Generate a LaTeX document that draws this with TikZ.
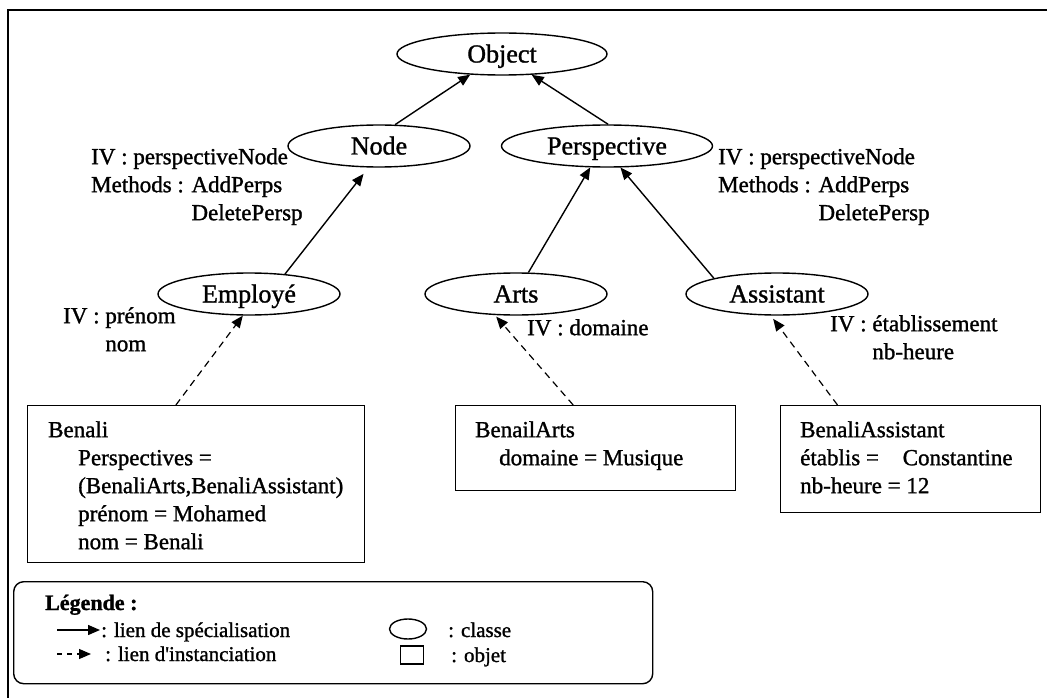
\documentclass[tikz,border=0pt]{standalone}
\usepackage{fontspec}
\setmainfont{Liberation Serif}[FakeBold=1.2]
\usetikzlibrary{shapes.geometric,arrows.meta,calc}

\begin{document}
\begin{tikzpicture}[x=1pt,y=-1pt,
  cls/.style={ellipse, draw, line width=1.4pt, minimum width=#1, minimum height=42pt,
    inner sep=0pt, font=\fontsize{26}{30}\selectfont, text height=17pt, text depth=0pt},
  cls/.default=182pt,
  objbox/.style={draw, line width=1.4pt, inner sep=0pt, anchor=north west},
  txt/.style={inner sep=0pt, align=left, anchor=north west, font=\fontsize{23}{28}\selectfont},
  legtxt/.style={inner sep=0pt, anchor=base west, font=\fontsize{21}{25}\selectfont},
  spec/.style={line width=1.4pt, -{Triangle[length=12pt,width=10pt]}},
  inst/.style={line width=1.2pt, dash pattern=on 7pt off 5pt, -{Triangle[length=12pt,width=10pt]}}
]
\useasboundingbox (0,0) rectangle (1047,698);

% frame
\draw[line width=1.8pt] (8,698) -- (8,10) -- (1047,10);

% classes
\node[cls=210pt] (obj) at (502,54) {Object};
\node[cls=182pt] (nodeC) at (379,146) {Node};
\node[cls=211pt] (persp) at (607,146) {Perspective};
\node[cls=182pt] (emp) at (249,294) {Employé};
\node[cls=182pt] (arts) at (516,294) {Arts};
\node[cls=182pt] (assist) at (777,294) {Assistant};

% class annotations
\node[txt] (lblNode) at (91,144.4) {\strut IV : perspectiveNode\\Methods : AddPerps\\\phantom{Methods : }DeletePersp};
\node[txt] (lblPersp) at (718,144.4) {\strut IV : perspectiveNode\\Methods : AddPerps\\\phantom{Methods : }DeletePersp};
\node[txt] (lblEmp) at (63,303.4) {\strut IV : prénom\\\phantom{IV : }nom};
\node[txt] (lblArts) at (527,315.4) {\strut IV : domaine};
\node[txt] (lblAssist) at (830,311.4) {\strut IV : établissement\\\phantom{IV : }nb-heure};

% objects
\node[objbox, minimum width=337pt, minimum height=157pt] (benali) at (27,405) {};
\node[objbox, minimum width=280pt, minimum height=85pt] (artsbox) at (455,405) {};
\node[objbox, minimum width=260pt, minimum height=107pt] (assistbox) at (780,405) {};

\node[txt] (benaliT) at (48,417.4) {\strut Benali\\\hspace*{30pt}Perspectives =\\\hspace*{30pt}(BenaliArts,BenaliAssistant)\\\hspace*{30pt}prénom = Mohamed\\\hspace*{30pt}nom = Benali};
\node[txt] (artsT) at (475,417.4) {\strut BenailArts\\\hspace*{24pt}domaine = Musique};
\node[txt] (assistT) at (800,417.4) {\strut BenaliAssistant\\établis = \hspace{18pt}Constantine\\nb-heure = 12};

% specialisation links
\draw[spec] (nodeC.53) -- (obj.213);
\draw[spec] (persp.87) -- (obj.325);
\draw[spec, shorten >=8pt] (emp.29) -- (nodeC.244);
\draw[spec] (arts.60) -- (persp.232);
\draw[spec] (assist.166) -- (persp.302);

% instantiation links
\draw[inst] ($(benali.north west)!0.44!(benali.north east)$) -- (emp.254);
\draw[inst, shorten >=2pt] ($(artsbox.north west)!0.42!(artsbox.north east)$) -- (arts.225);
\draw[inst, shorten >=4pt] ($(assistbox.north west)!0.22!(assistbox.north east)$) -- (assist.254);

% legend
\node[draw, line width=1.4pt, rounded corners=10pt, minimum width=639pt, minimum height=102pt,
  anchor=north west] (legend) at (13,581) {};
\node[legtxt, font=\fontsize{22}{26}\selectfont\bfseries] (legTitle) at (45,610) {Légende :};
\coordinate (ls1) at (57,630);
\coordinate (ls2) at (100,630);
\draw[spec] (ls1) -- (ls2);
\node[legtxt] (legSpec) at (101,637) {: lien de spécialisation};
\coordinate (li1) at (57,654);
\coordinate (li2) at (91,654);
\draw[inst, dash pattern=on 5pt off 5pt] (li1) -- (li2);
\node[legtxt] (legInst) at (105,661) {: lien d{\addfontfeatures{Mapping=}'}instanciation};
\node[ellipse, draw, line width=1.4pt, minimum width=37pt, minimum height=20pt, inner sep=0pt] (legCls) at (408,629) {};
\node[draw, line width=1.4pt, minimum width=23pt, minimum height=18pt, inner sep=0pt] (legObj) at (412,655) {};
\node[legtxt] (legClsT) at (448,637) {: classe};
\node[legtxt] (legObjT) at (451,662) {: objet};
\end{tikzpicture}
\end{document}
